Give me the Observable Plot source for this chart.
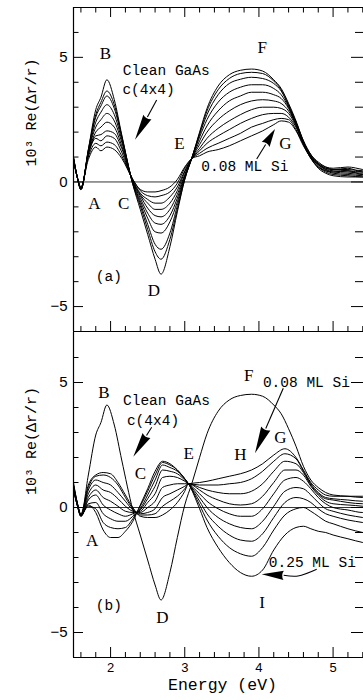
<!DOCTYPE html>
<html><head><meta charset="utf-8">
<script src="https://cdn.jsdelivr.net/npm/d3@7"></script>
<script src="https://cdn.jsdelivr.net/npm/@observablehq/plot@0.6"></script>
<style>
html,body{margin:0;padding:0;background:#fff;overflow:hidden;}
#chart svg{display:block;}
</style></head><body><div id="chart"></div>
<script>
// ---------- data ----------
const energyA = [1.5,1.55,1.6,1.7,1.8,1.87,1.95,2.05,2.15,2.3,2.4,2.5,2.6,2.68,2.8,2.9,3.0,3.1,3.2,3.3,3.45,3.6,3.75,3.9,4.05,4.2,4.3,4.4,4.5,4.6,4.7,4.8,4.9,5.0,5.2,5.4,5.5];
const cleanGaAs = [1.0,0.2,-0.3,1.3,2.9,3.4,4.1,3.3,1.9,-0.1,-1.1,-2.1,-3.1,-3.7,-2.6,-1.2,0.1,1.0,2.0,2.95,3.85,4.3,4.48,4.53,4.45,4.1,3.75,3.15,2.45,1.65,1.1,0.8,0.6,0.5,0.45,0.4,0.4];
// panel (a): decreasing amplitude, clean c(4x4) -> 0.08 ML Si
const panelACurves = [
  [1.0,0.2,-0.3,1.3,2.7,3.2,3.65,3.1,1.85,-0.1,-0.95,-1.9,-2.8,-3.1,-2.3,-1.1,0.1,1.0,1.95,2.85,3.7,4.15,4.35,4.4,4.35,4.05,3.7,3.1,2.4,1.65,1.1,0.75,0.6,0.55,0.6,0.5,0.45],
  [0.95,0.2,-0.3,1.25,2.6,3.05,3.45,2.95,1.8,-0.05,-0.85,-1.7,-2.5,-2.7,-2.05,-0.95,0.15,1.0,1.9,2.7,3.5,3.95,4.12,4.2,4.15,3.95,3.65,3.05,2.4,1.6,1.05,0.75,0.55,0.5,0.5,0.45,0.45],
  [0.95,0.2,-0.3,1.2,2.4,2.8,3.1,2.7,1.7,-0.05,-0.75,-1.45,-2.0,-2.05,-1.6,-0.8,0.2,1.0,1.8,2.5,3.2,3.6,3.8,3.9,3.9,3.75,3.5,3.0,2.35,1.6,1.05,0.7,0.55,0.5,0.55,0.4,0.4],
  [0.95,0.2,-0.28,1.2,2.2,2.5,2.75,2.45,1.6,0.0,-0.65,-1.25,-1.65,-1.7,-1.35,-0.65,0.25,0.98,1.65,2.25,2.85,3.25,3.45,3.6,3.6,3.5,3.35,2.95,2.3,1.6,1.0,0.7,0.5,0.45,0.4,0.35,0.35],
  [0.9,0.2,-0.28,1.15,2.0,2.2,2.4,2.2,1.45,0.0,-0.55,-1.05,-1.35,-1.4,-1.1,-0.5,0.3,0.97,1.5,2.0,2.5,2.85,3.1,3.25,3.3,3.25,3.15,2.85,2.3,1.55,1.0,0.7,0.5,0.4,0.45,0.3,0.3],
  [0.9,0.2,-0.25,1.1,1.85,1.9,2.05,1.95,1.35,0.05,-0.5,-0.85,-1.1,-1.1,-0.85,-0.35,0.4,0.97,1.35,1.75,2.15,2.45,2.7,2.9,3.0,3.0,2.95,2.75,2.25,1.55,1.0,0.65,0.45,0.4,0.35,0.3,0.3],
  [0.9,0.2,-0.25,1.1,1.75,1.65,1.85,1.75,1.2,0.05,-0.45,-0.7,-0.85,-0.85,-0.6,-0.2,0.45,0.96,1.25,1.55,1.85,2.1,2.35,2.55,2.7,2.75,2.75,2.6,2.2,1.5,0.95,0.6,0.45,0.35,0.3,0.25,0.25],
  [0.85,0.2,-0.22,1.0,1.55,1.45,1.6,1.5,1.05,0.1,-0.35,-0.55,-0.6,-0.55,-0.4,-0.05,0.55,0.95,1.15,1.35,1.55,1.75,1.95,2.2,2.35,2.5,2.55,2.5,2.1,1.5,0.95,0.6,0.4,0.3,0.25,0.2,0.2],
  [0.85,0.2,-0.2,0.9,1.4,1.25,1.4,1.3,0.95,0.1,-0.3,-0.4,-0.4,-0.35,-0.2,0.1,0.6,0.95,1.05,1.2,1.3,1.45,1.65,1.85,2.05,2.3,2.45,2.4,2.05,1.45,0.95,0.55,0.35,0.25,0.2,0.2,0.2]
];
// panel (b): 0.08 ML Si -> 0.25 ML Si
const energyB = [1.5,1.55,1.6,1.7,1.8,1.9,2.0,2.1,2.2,2.3,2.4,2.5,2.6,2.7,2.8,2.9,3.0,3.05,3.2,3.3,3.45,3.6,3.75,3.9,4.05,4.2,4.35,4.5,4.6,4.7,4.8,4.9,5.0,5.2,5.4,5.5];
const panelBCurves = [
  [0.9,0.2,-0.25,0.9,1.3,1.4,1.35,1.0,0.5,0.0,-0.35,-0.4,-0.4,-0.3,-0.1,0.2,0.65,0.95,1.0,1.05,1.15,1.25,1.35,1.5,1.75,2.1,2.35,2.0,1.5,1.0,0.7,0.5,0.45,0.45,0.45,0.45],
  [0.9,0.2,-0.3,0.8,1.25,1.3,1.2,0.9,0.4,-0.05,-0.3,-0.3,-0.25,0.05,0.25,0.45,0.75,0.95,0.9,0.9,0.9,0.95,1.0,1.15,1.45,1.85,2.15,1.95,1.45,0.95,0.6,0.4,0.35,0.3,0.25,0.25],
  [0.85,0.15,-0.3,0.7,1.1,1.0,0.9,0.6,0.25,-0.1,-0.25,-0.2,-0.05,0.4,0.55,0.7,0.85,0.95,0.8,0.7,0.6,0.55,0.55,0.65,0.95,1.45,1.85,1.75,1.4,0.9,0.55,0.35,0.3,0.2,0.15,0.15],
  [0.85,0.15,-0.3,0.55,0.9,0.7,0.6,0.35,0.05,-0.15,-0.2,0.0,0.25,0.8,0.9,0.95,0.95,0.95,0.7,0.5,0.3,0.15,0.1,0.15,0.45,1.0,1.5,1.5,1.3,0.85,0.5,0.25,0.15,0.1,0.05,0.0],
  [0.8,0.15,-0.35,0.4,0.7,0.4,0.25,0.05,-0.15,-0.2,-0.15,0.2,0.55,1.2,1.25,1.2,1.05,0.95,0.55,0.25,-0.05,-0.25,-0.35,-0.35,-0.05,0.55,1.1,1.2,1.05,0.75,0.4,0.15,0.0,-0.1,-0.2,-0.2],
  [0.8,0.1,-0.35,0.3,0.5,0.1,-0.1,-0.25,-0.35,-0.25,-0.1,0.35,0.85,1.5,1.45,1.35,1.1,0.95,0.4,0.0,-0.4,-0.65,-0.8,-0.85,-0.55,0.05,0.65,0.8,0.75,0.5,0.2,-0.05,-0.15,-0.3,-0.4,-0.45],
  [0.75,0.1,-0.35,0.15,0.2,-0.25,-0.45,-0.55,-0.55,-0.35,-0.05,0.5,1.1,1.7,1.6,1.45,1.15,0.95,0.25,-0.25,-0.75,-1.1,-1.3,-1.35,-1.05,-0.4,0.2,0.4,0.35,0.2,-0.05,-0.25,-0.35,-0.5,-0.6,-0.65],
  [0.7,0.1,-0.3,0.05,-0.05,-0.6,-0.8,-0.85,-0.8,-0.45,0.05,0.65,1.3,1.8,1.7,1.5,1.15,0.95,0.1,-0.5,-1.15,-1.6,-1.85,-1.95,-1.6,-0.9,-0.3,-0.05,0.0,-0.15,-0.35,-0.55,-0.65,-0.85,-1.0,-1.05],
  [0.7,0.1,-0.3,0.1,-0.2,-0.9,-1.2,-1.2,-0.95,-0.55,0.1,0.75,1.45,1.85,1.75,1.5,1.15,0.95,-0.05,-0.8,-1.6,-2.2,-2.6,-2.75,-2.5,-1.7,-1.1,-0.8,-0.75,-0.85,-0.95,-1.0,-1.1,-1.25,-1.4,-1.45]
];
// axes
const xMajorTicks = [2,3,4,5];
const xMinorTicks = [1.6,1.8,2.2,2.4,2.6,2.8,3.2,3.4,3.6,3.8,4.2,4.4,4.6,4.8,5.2,5.4];
const yMajorTicks = [-5,0,5];
const yMinorTicks = [-4,-3,-2,-1,1,2,3,4,6];
const yTickLabels = ["−5","0","5"];
const xTickLabels = ["2","3","4","5"];
const yTitle = "10³ Re(Δr/r)";
const xTitle = "Energy (eV)";
// annotations (energy, value)
const lettersA = [
  {E:1.931,v:5.14,t:"B"},{E:1.783,v:-0.85,t:"A"},{E:2.178,v:-0.85,t:"C"},{E:2.583,v:-4.37,t:"D"},
  {E:2.929,v:1.56,t:"E"},{E:4.044,v:5.4,t:"F"},{E:4.358,v:1.54,t:"G"}
];
const notesA = [
  {E:2.75,v:4.47,t:"Clean GaAs"},{E:2.511,v:3.7,t:"c(4x4)"},{E:3.81,v:0.64,t:"0.08 ML Si"},{E:1.976,v:-3.8,t:"(a)"}
];
const arrowsA = [
  {path:[[2.628,3.27]], tip:[2.336,1.67], head:26, w:4.6},
  {path:[[3.977,0.9]], tip:[4.224,2.1], head:18, w:4.6}
];
const lettersB = [
  {E:1.909,v:4.61,t:"B"},{E:2.403,v:1.35,t:"C"},{E:3.054,v:2.15,t:"E"},{E:3.863,v:5.28,t:"F"},
  {E:4.29,v:2.81,t:"G"},{E:3.75,v:2.12,t:"H"},{E:1.752,v:-1.32,t:"A"},{E:2.7,v:-4.39,t:"D"},{E:4.044,v:-3.79,t:"I"}
];
const notesB = [
  {E:2.754,v:4.28,t:"Clean GaAs"},{E:2.572,v:3.48,t:"c(4x4)"},{E:4.64,v:5.01,t:"0.08 ML Si"},
  {E:4.72,v:-2.19,t:"0.25 ML Si"},{E:1.976,v:-3.92,t:"(b)"}
];
const arrowsB = [
  {path:[[2.561,3.19]], tip:[2.313,2.01], head:25, w:4.6},
  {path:[[4.335,4.75]], tip:[3.954,2.15], head:27, w:5},
  {path:[[4.786,-2.49],[4.534,-2.76]], tip:[4.044,-2.69], head:22, w:4.6}
];

// ---------- drawing ----------
const X_DOMAIN = [1.5, 5.41];
const Y_DOMAIN = [-6, 7];
const W = 363, ML = 73, MR = 0;
const PW = W - ML - MR;
const SERIF = "Liberation Serif", MONO = "Liberation Mono", SANS = "Liberation Sans";

function tidy(energies, curves, tag) {
  const rows = [];
  curves.forEach((vals, k) => vals.forEach((v, i) => rows.push({E: energies[i], v, s: tag + k})));
  return rows;
}
function arrowMark(arrows) {
  return (index, scales) => {
    const {x, y} = scales;
    const g = d3.create("svg:g");
    for (const a of arrows) {
      const pts = a.path.map(([e, v]) => [x(e), y(v)]);
      const tip = [x(a.tip[0]), y(a.tip[1])];
      const last = pts[pts.length - 1];
      const dx = tip[0] - last[0], dy = tip[1] - last[1];
      const L = Math.hypot(dx, dy), ux = dx / L, uy = dy / L;
      const base = [tip[0] - ux * a.head, tip[1] - uy * a.head];
      const px = -uy, py = ux;
      g.append("path").attr("d", d3.line().curve(d3.curveCatmullRom)([...pts, base]))
        .attr("fill", "none").attr("stroke", "#000").attr("stroke-width", 1.1);
      g.append("path")
        .attr("d", `M${base[0] + px * a.w},${base[1] + py * a.w}L${tip[0]},${tip[1]}L${base[0] - px * a.w},${base[1] - py * a.w}Q${base[0] + ux * 3},${base[1] + uy * 3} ${base[0] + px * a.w},${base[1] + py * a.w}Z`)
        .attr("fill", "#000");
    }
    return g.node();
  };
}

function panel({height, marginTop, marginBottom, rows, letters, notes, arrows, top, bottomLabels, titleDy}) {
  const PH = height - marginTop - marginBottom;
  const marks = [
    Plot.ruleY([0], {stroke: "#000", strokeWidth: 0.8}),
    Plot.line(rows, {x: "E", y: "v", z: "s", stroke: "#000", strokeWidth: 1, curve: "monotone-x", clip: true}),
    Plot.ruleX([X_DOMAIN[0]], {stroke: "#000", strokeWidth: 1.2}),
    Plot.ruleY([Y_DOMAIN[0]], {stroke: "#000", strokeWidth: 1.2}),
    Plot.ruleY(yMinorTicks, {insetRight: PW - 5.5, stroke: "#000"}),
    Plot.ruleY(yMajorTicks, {insetRight: PW - 10, stroke: "#000"}),
    Plot.ruleY(yMinorTicks, {insetLeft: PW - 8, stroke: "#000"}),
    Plot.ruleY(yMajorTicks, {insetLeft: PW - 12, stroke: "#000"}),
    Plot.ruleX(xMinorTicks, {insetTop: PH - 5, stroke: "#000"}),
    Plot.ruleX(xMajorTicks, {insetTop: PH - 10, stroke: "#000"}),
    Plot.text(yMajorTicks, {y: d => d, text: (d, i) => yTickLabels[i], frameAnchor: "left", textAnchor: "end", dx: -6, fontSize: 15, fontFamily: SANS}),
    Plot.text([yTitle], {frameAnchor: "left", rotate: -90, dx: -42, dy: titleDy, fontSize: 15, fontFamily: MONO}),
    Plot.text(letters, {x: "E", y: "v", text: "t", fontSize: 17, fontFamily: SERIF}),
    Plot.text(notes, {x: "E", y: "v", text: "t", fontSize: 14.5, fontFamily: MONO}),
    arrowMark(arrows)
  ];
  if (top) {
    marks.push(
      Plot.ruleY([Y_DOMAIN[1]], {stroke: "#000", strokeWidth: 1.2}),
      Plot.ruleX(xMinorTicks, {insetBottom: PH - 5.5, stroke: "#000"}),
      Plot.ruleX(xMajorTicks, {insetBottom: PH - 10, stroke: "#000"})
    );
  }
  if (bottomLabels) {
    marks.push(
      Plot.text(xMajorTicks, {x: d => d, text: (d, i) => xTickLabels[i], frameAnchor: "bottom", dy: 14, fontSize: 13, fontFamily: SANS}),
      Plot.text([xTitle], {frameAnchor: "bottom", dy: 32, dx: 4, fontSize: 16.5, fontFamily: MONO})
    );
  }
  return Plot.plot({
    width: W, height, marginLeft: ML, marginRight: MR, marginTop, marginBottom,
    x: {domain: X_DOMAIN, axis: null},
    y: {domain: Y_DOMAIN, axis: null},
    style: {background: "#fff", color: "#000", fontFamily: SERIF},
    marks
  });
}

const rowsA = tidy(energyA, [cleanGaAs, ...panelACurves], "a");
const rowsB = [...tidy(energyA, [cleanGaAs], "bc"), ...tidy(energyB, panelBCurves, "b")];

const chart = document.getElementById("chart");
chart.append(panel({height: 332, marginTop: 7, marginBottom: 1, rows: rowsA, letters: lettersA, notes: notesA, arrows: arrowsA, top: true, bottomLabels: false, titleDy: -3}));
chart.append(panel({height: 368, marginTop: 0, marginBottom: 43, rows: rowsB, letters: lettersB, notes: notesB, arrows: arrowsB, top: false, bottomLabels: true, titleDy: 0}));
</script></body></html>
